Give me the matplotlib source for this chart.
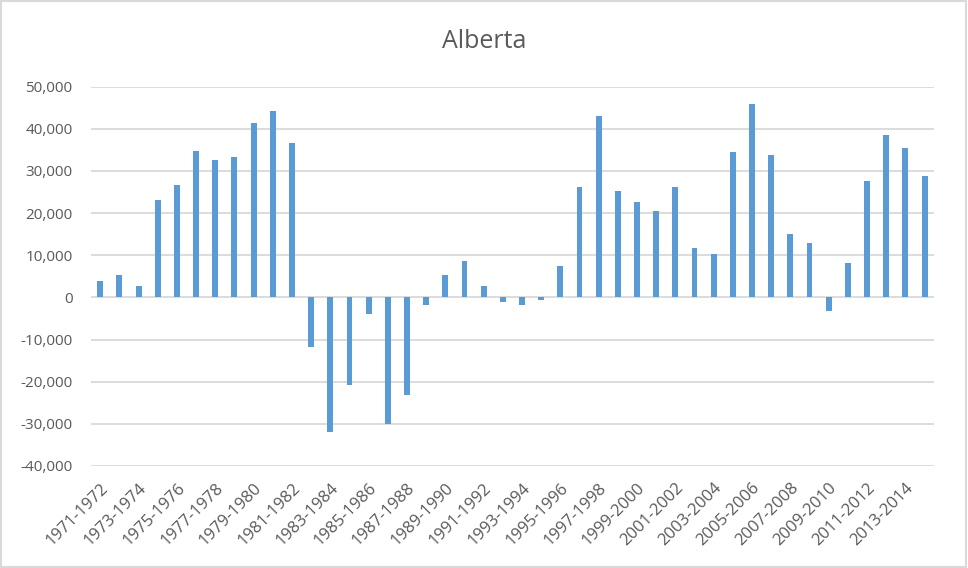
import matplotlib
matplotlib.use("Agg")
import matplotlib.pyplot as plt
from matplotlib.patches import Rectangle
from matplotlib.ticker import FuncFormatter, MultipleLocator

# Net migration values
start_years = list(range(1971, 2015))
periods = ["%d-%d" % (y, y + 1) for y in start_years]
values = [
    4000, 5400, 2800, 23000, 26600, 34700, 32500, 33250, 41350, 44200,
    36600, -11800, -31900, -20800, -4000, -30000, -23150, -1700, 5400, 8700,
    2800, -1200, -1700, -700, 7500, 26100, 43000, 25150, 22550, 20400,
    26100, 11800, 10400, 34450, 45900, 33700, 15150, 13000, -3300, 8250,
    27550, 38500, 35400, 28700,
]

plt.rcParams['font.family'] = ['Open Sans', 'DejaVu Sans']
text_color = '#595959'

fig = plt.figure(figsize=(9.68, 5.68), dpi=100)
ax = fig.add_axes([0.0937, 0.1796, 0.965 - 0.0937, 0.8474 - 0.1796])

x = list(range(len(periods)))
ax.bar(x, values, width=0.31, color='#5B9BD5', zorder=3)

ax.set_xlim(-0.5, len(periods) - 0.5)
ax.set_ylim(-40000, 50000)
ax.yaxis.set_major_locator(MultipleLocator(10000))
ax.yaxis.set_major_formatter(FuncFormatter(lambda v, p: "{:,.0f}".format(v)))
ax.grid(axis='y', color='#D9D9D9', linewidth=1.3, zorder=0)

ax.set_xticks(x[::2])
ax.set_xticklabels(periods[::2], rotation=45, ha='right', rotation_mode='anchor',
                   fontsize=12, color=text_color)
ax.tick_params(axis='y', labelsize=11, labelcolor=text_color, length=0, pad=13)
ax.tick_params(axis='x', length=0, pad=10)
for s in ax.spines.values():
    s.set_visible(False)

fig.text(0.5, 0.927, 'Alberta', ha='center', va='center', fontsize=18, color=text_color)

fig.patches.append(Rectangle((0.001, 0.002), 0.997, 0.996, transform=fig.transFigure,
                             fill=False, edgecolor='#D9D9D9', linewidth=1.5))

fig.savefig('out.png', dpi=100)
